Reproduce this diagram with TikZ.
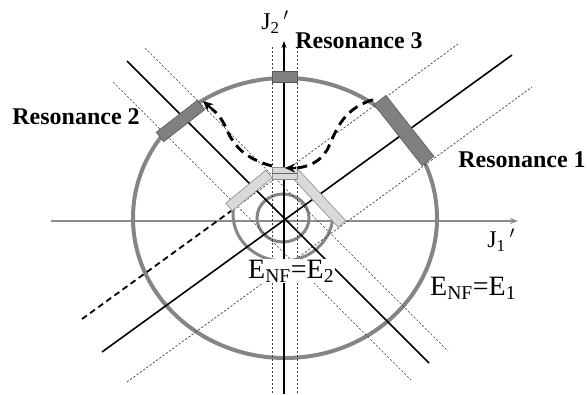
\documentclass[tikz,border=0pt]{standalone}
\usepackage{fontspec}
\setmainfont{Liberation Serif}
\usetikzlibrary{arrows.meta, calc}
\tikzset{
  res line/.style={line width=1.6pt, black},
  width line/.style={line width=0.7pt, dash pattern=on 2.2pt off 1.8pt, black!75},
  thick dash/.style={line width=1.8pt, dash pattern=on 6pt off 4pt, black},
  energy curve/.style={line width=3pt, black!48},
  axis line/.style={line width=1.6pt, black!45, -{Stealth[length=8pt, width=6pt]}},
  dark bar/.style={draw=black!65, line width=0.6pt, fill=black!50},
  light bar/.style={draw=black!45, line width=0.6pt, fill=black!15},
  path dash/.style={line width=2.9pt, dash pattern=on 10pt off 6pt},
  path tip/.style={-{Stealth[length=10pt, width=9pt]}, line width=2.4pt},
  res label/.style={font=\fontsize{24}{26}\selectfont\bfseries, inner sep=0pt},
  energy label/.style={font=\fontsize{28}{30}\selectfont, inner sep=1pt, fill=white, anchor=base west},
  axis label/.style={font=\fontsize{24}{26}\selectfont, inner sep=0pt}
}
% bar across a resonance: style, end A, end B, half width
\newcommand{\resbar}[4]{%
  \draw[#1] ($(#2)!#4!90:(#3)$) -- ($(#2)!#4!-90:(#3)$) -- ($(#3)!#4!90:(#2)$) -- ($(#3)!#4!-90:(#2)$) -- cycle;}

\begin{document}
\begin{tikzpicture}[x=1pt, y=-1pt]
  \useasboundingbox (0,0) rectangle (588,394);

  %% ---- axes ----
  \coordinate (J1s) at (51,221);
  \coordinate (J1e) at (518,221);
  \coordinate (J2s) at (284,394);
  \coordinate (J2e) at (284,41);
  \draw[axis line] (J1s) -- (J1e);

  %% ---- energy shells ----
  \draw[energy curve, line width=4pt] (285,218) ellipse [x radius=152pt, y radius=140pt];
  \draw[energy curve] (283,218) ellipse [x radius=26pt, y radius=24pt];
  \draw[energy curve] (283,214) ++(172:50pt and 47pt)
    arc [start angle=172, end angle=355, x radius=50pt, y radius=47pt];

  %% ---- resonance 3 ----
  \draw[width line] (272,47) -- (272,394);
  \draw[width line] (297,47) -- (297,394);
  \draw[res line, -{Stealth[length=7pt, width=5pt]}] (J2s) -- (J2e);

  %% ---- resonance 1 ----
  \draw[res line] (102,352) -- (512,55);
  \draw[width line] (127,382) -- (532,87);
  \draw[width line] (231,211) -- (458,44);
  \draw[thick dash] (82,319) -- (231,211);

  %% ---- resonance 2 ----
  \draw[res line] (127,61) -- (429,363);
  \draw[width line] (145,48) -- (448,351);
  \draw[width line] (113,82) -- (411,380);

  %% ---- bars on the shells ----
  \draw[dark bar] (272,71) rectangle (297,82);
  \resbar{dark bar}{160,137}{201,105}{6pt}
  \resbar{dark bar}{380,100}{428,161}{7.5pt}
  \resbar{light bar}{229,207}{269,174}{5pt}
  \resbar{light bar}{292,170}{342,224}{5pt}
  \draw[light bar] (272,167) rectangle (297,179);
  \draw[black!60, line width=0.6pt] (272,173) -- (297,173);

  %% ---- diffusion path ----
  \coordinate (p0) at (372,100);
  \coordinate (p1) at (296,168);
  \coordinate (p1t) at (285,168);
  \coordinate (q0) at (272,166);
  \coordinate (q1) at (212,109);
  \coordinate (q1t) at (203,101);
  \fill (p0) circle [radius=1.6pt];
  \draw[path dash] (p0) .. controls (340,110) and (335,135) .. (327,150)
    .. controls (320,162) and (308,167) .. (p1);
  \draw[path tip] (p1) -- (p1t);
  \draw[path dash] (q0) .. controls (250,160) and (235,150) .. (226,128)
    .. controls (222,119) and (218,114) .. (q1);
  \draw[path tip] (q1) -- (q1t);

  %% ---- labels ----
  \node[res label] (res1) at (522,160) {Resonance 1};
  \node[res label] (res2) at (76,117) {Resonance 2};
  \node[res label] (res3) at (359,41) {Resonance 3};
  \node[energy label] (e2) at (247,278) {E\textsubscript{NF}=E\textsubscript{2}};
  \node[energy label] (e1) at (429,295) {E\textsubscript{NF}=E\textsubscript{1}};
  \node[axis label] (j1) at (501,240) {J\textsubscript{1}\,$'$};
  \node[axis label] (j2) at (275,22) {J\textsubscript{2}\,$'$};
\end{tikzpicture}
\end{document}
